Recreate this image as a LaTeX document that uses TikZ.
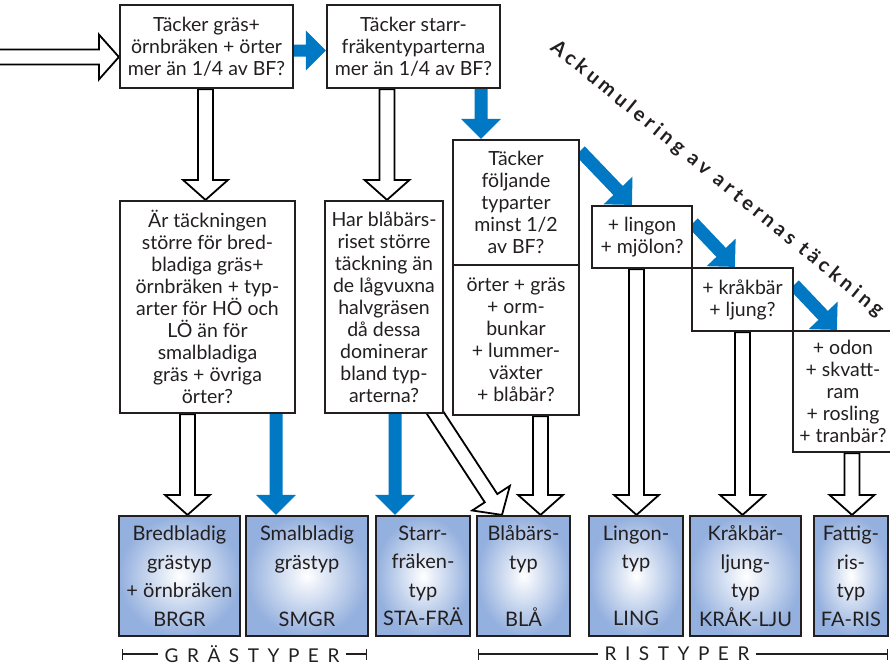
\documentclass[tikz,border=0pt]{standalone}
\usepackage{fontspec}
\setmainfont{Lato}
\newfontfamily\ackfont[LetterSpace=20]{Lato}
\newfontfamily\capfont[LetterSpace=45]{Lato}
\usetikzlibrary{calc,backgrounds,arrows.meta}
\definecolor{fblue}{RGB}{0,120,195}
\definecolor{boxblue}{RGB}{148,176,222}
\definecolor{ink}{RGB}{35,31,32}
\newcommand{\fatarrow}[5]{%
  \coordinate (faH) at ($(#3)!20pt!(#2)$);
  \draw[#1] ($(#2)!#4!90:(#3)$) -- ($(faH)!#4!90:(#3)$) -- ($(faH)!#5!90:(#3)$) -- (#3)
    -- ($(faH)!#5!-90:(#3)$) -- ($(faH)!#4!-90:(#3)$) -- ($(#2)!#4!-90:(#3)$) -- cycle;
}
\tikzset{
  qbox/.style={draw=ink, line width=2.2pt, fill=white, align=center, inner sep=0pt,
    font=\fontsize{19.5}{22}\selectfont, text=ink},
  tbox/.style={draw=ink, line width=2.2pt, inner color=white, outer color=boxblue,
    align=center, inner sep=0pt, font=\fontsize{20}{28.5}\selectfont, text=ink,
    minimum height=120pt},
  hol/.style={draw=black, line width=1.8pt, fill=white, line join=miter},
  blu/.style={fill=fblue, draw=none},
  brk/.style={draw=ink, line width=1.3pt},
  caplab/.style={font=\capfont\fontsize{19}{19}\selectfont, text=ink, inner xsep=6pt},
}
\begin{document}
\begin{tikzpicture}[x=1pt, y=-1pt]
\useasboundingbox (0,0) rectangle (890,665);

% question boxes
\node[qbox, minimum width=173pt, minimum height=83pt] (b1) at (206.5,46.5)
  {Täcker gräs+\\örnbräken + örter\\mer än 1/4 av BF?};
\node[qbox, minimum width=173pt, minimum height=83pt] (b2) at (413.5,46.5)
  {Täcker starr-\\fräkentyparterna\\mer än 1/4 av BF?};
\node[qbox, minimum width=175pt, minimum height=212pt] (ar) at (207.5,307)
  {Är täckningen\\större för bred-\\bladiga gräs+\\örnbräken + typ-\\arter för HÖ och\\LÖ än för\\smalbladiga\\gräs + övriga\\örter?};
\node[qbox, minimum width=118pt, minimum height=212pt] (har) at (384,307)
  {Har blåbärs-\\riset större\\täckning än\\de lågvuxna\\halvgräsen\\då dessa\\dominerar\\bland typ-\\arterna?};
\node[qbox, minimum width=126pt, minimum height=125pt] (tf) at (516,202.5)
  {Täcker\\följande\\typarter\\minst 1/2\\av BF?};
\node[qbox, minimum width=126pt, minimum height=150pt] (tf2) at (516,340)
  {örter + gräs\\+ orm-\\bunkar\\+ lummer-\\växter\\+ blåbär?};
\node[qbox, minimum width=100pt, minimum height=62pt] (li) at (642,237)
  {+ lingon\\+ mjölon?};
\node[qbox, minimum width=101pt, minimum height=63pt] (kr) at (742.5,299.5)
  {+ kråkbär\\+ ljung?};
\node[qbox, minimum width=100pt, minimum height=121pt] (od) at (843,391.5)
  {+ odon\\+ skvatt-\\ram\\+ rosling\\+ tranbär?};

% type boxes
\node[tbox, minimum width=121pt] (brgr) at (179.5,576) {Bredbladig\\grästyp\\+ örnbräken\\BRGR};
\node[tbox, minimum width=122pt] (smgr) at (307,576) {Smalbladig\\grästyp\\\mbox{}\\SMGR};
\node[tbox, minimum width=94pt] (sta) at (423,576) {Starr-\\fräken-\\typ\\STA-FRÄ};
\node[tbox, minimum width=93pt] (bla) at (523.5,576) {Blåbärs-\\typ\\\mbox{}\\BLÅ};
\node[tbox, minimum width=94pt] (ling) at (636,576) {Lingon-\\typ\\\mbox{}\\LING};
\node[tbox, minimum width=111pt] (krak) at (745.5,576) {Kråkbär-\\ljung-\\typ\\KRÅK-LJU};
\node[tbox, minimum width=74pt] (fa) at (851,576) {Fattig-\\ris-\\typ\\FA-RIS};

% diagonal title
\node[font=\ackfont\bfseries\fontsize{20}{20}\selectfont, text=ink, rotate=-39.3] (ack) at (717,179)
  {Ackumulering av arternas täckning};

% group labels
\node[caplab] (gras) at (252,654) {GRÄSTYPER};
\node[caplab] (ris) at (677,654) {RISTYPER};
\coordinate (gl) at (122,654);
\coordinate (gr) at (367,654);
\coordinate (rl) at (478,654);
\coordinate (rr) at (888,654);
\draw[brk, {Bar[width=11pt]}-] (gl) -- (gras.west);
\draw[brk, -{Bar[width=11pt]}] (gras.east) -- (gr);
\draw[brk, {Bar[width=11pt]}-] (rl) -- (ris.west);
\draw[brk, -{Bar[width=11pt]}] (ris.east) -- (rr);

\begin{pgfonlayer}{background}
\fill[white] (0,0) rectangle (890,665);
% input
\coordinate (inA) at (-10,57);
\coordinate (inB) at (b1.west |- inA);
\fatarrow{hol}{inA}{inB}{7.5pt}{22.5pt}
% b1 -> b2
\coordinate (c1) at ($(b1.east)+(0,4)$);
\coordinate (c2) at (b2.west |- c1);
\fatarrow{blu}{c1}{c2}{6pt}{20pt}
% b1 -> ar
\coordinate (d1) at ($(b1.south)+(-1,0)$);
\coordinate (d2) at (d1 |- ar.north);
\fatarrow{hol}{d1}{d2}{7.5pt}{22.5pt}
% b2 -> har
\coordinate (e1) at ($(b2.south)+(-26.5,0)$);
\coordinate (e2) at (e1 |- har.north);
\fatarrow{hol}{e1}{e2}{7.5pt}{22.5pt}
% b2 -> tf
\coordinate (f1) at ($(b2.south)+(67.5,0)$);
\coordinate (f2) at (f1 |- tf.north);
\fatarrow{blu}{f1}{f2}{6.5pt}{20pt}
% diagonal blue
\coordinate (g1) at ($(tf.north east)+(0,12)$);
\coordinate (g2) at ($(li.north west)+(41,0)$);
\fatarrow{blu}{g1}{g2}{6.5pt}{20pt}
\coordinate (g3) at ($(li.north east)+(0,18)$);
\coordinate (g4) at ($(kr.north west)+(44,0)$);
\fatarrow{blu}{g3}{g4}{6.5pt}{20pt}
\coordinate (g5) at ($(kr.north east)+(0,18)$);
\coordinate (g6) at ($(od.north west)+(45,0)$);
\fatarrow{blu}{g5}{g6}{6.5pt}{20pt}
% ar -> brgr, smgr
\coordinate (h1) at ($(ar.south)+(-20,0)$);
\coordinate (h2) at (h1 |- brgr.north);
\fatarrow{hol}{h1}{h2}{7.5pt}{22.5pt}
\coordinate (i1) at ($(ar.south)+(68.5,0)$);
\coordinate (i2) at (i1 |- smgr.north);
\fatarrow{blu}{i1}{i2}{6.5pt}{20pt}
% har -> sta, bla
\coordinate (j1) at ($(har.south)+(11,0)$);
\coordinate (j2) at (j1 |- sta.north);
\fatarrow{blu}{j1}{j2}{6.5pt}{20pt}
\coordinate (k1) at ($(har.south east)+(-12,-6)$);
\coordinate (k2) at ($(bla.north)+(-21.5,0)$);
\fatarrow{hol}{k1}{k2}{7.5pt}{22.5pt}
% tf2 -> bla
\coordinate (l1) at ($(tf2.south)+(24.5,0)$);
\coordinate (l2) at (l1 |- bla.north);
\fatarrow{hol}{l1}{l2}{7.5pt}{22.5pt}
% li -> ling
\coordinate (m1) at ($(li.south)+(-5.5,0)$);
\coordinate (m2) at (m1 |- ling.north);
\fatarrow{hol}{m1}{m2}{7.5pt}{22.5pt}
% kr -> krak
\coordinate (n1) at (kr.south);
\coordinate (n2) at (n1 |- krak.north);
\fatarrow{hol}{n1}{n2}{7.5pt}{22.5pt}
% od -> fa
\coordinate (o1) at ($(od.south)+(9,0)$);
\coordinate (o2) at (o1 |- fa.north);
\fatarrow{hol}{o1}{o2}{7.5pt}{22.5pt}
\end{pgfonlayer}
\end{tikzpicture}
\end{document}
